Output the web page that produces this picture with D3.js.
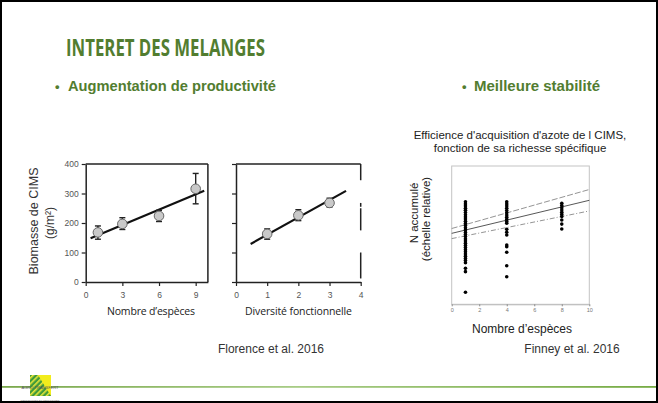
<!DOCTYPE html>
<html><head><meta charset="utf-8">
<script src="https://cdn.jsdelivr.net/npm/d3@7"></script>
<style>
html,body{margin:0;padding:0;background:#fff;}
svg{display:block;}
text{font-family:"Liberation Sans",Arial,sans-serif;}
</style></head>
<body>
<script>
// ---- Data ----
const speciesN = [1, 3, 6, 9];
const biomassMean = [168, 197, 224, 316];
const biomassLow = [145, 178, 205, 265];
const biomassHigh = [190, 218, 243, 368];
const fit1X = [0.4, 9.7];
const fit1Y = [148, 309];
const yTicksBiomass = [0, 100, 200, 300, 400];
const xTicksSpecies = [0, 3, 6, 9];

const diversity = [1, 2, 3];
const divMean = [163, 226, 268];
const divLow = [145, 208, 254];
const divHigh = [180, 245, 284];
const fit2X = [0.47, 3.53];
const fit2Y = [129, 309];
const xTicksDiversity = [0, 1, 2, 3, 4];

const finneyX = [1, 4, 8];
const finneyCol1 = [0.742,0.725,0.71,0.695,0.68,0.664,0.648,0.632,0.617,0.60,0.585,0.57,0.553,0.537,0.52,0.505,0.49,0.473,0.458,0.442,0.426,0.41,0.395,0.38,0.364,0.348,0.332,0.316,0.30,0.26,0.236,0.087];
const finneyCol4 = [0.742,0.726,0.71,0.694,0.678,0.662,0.646,0.63,0.614,0.598,0.586,0.542,0.521,0.501,0.429,0.416,0.376,0.279,0.199];
const finneyCol8 = [0.73,0.714,0.698,0.682,0.666,0.65,0.635,0.61,0.58,0.545];
const finneyFitX = [0, 10];
const finneyFit = [0.513, 0.752];
const finneyUpper = [0.548, 0.83];
const finneyLower = [0.475, 0.675];
const xTicksFinney = [0, 2, 4, 6, 8, 10];

// ---- Drawing ----
const W = 658, H = 403;
const svg = d3.select("body").append("svg").attr("width", W).attr("height", H);
svg.append("rect").attr("x",0).attr("y",0).attr("width",W).attr("height",H).attr("fill","#fff");
svg.append("rect").attr("x",1).attr("y",1).attr("width",W-2).attr("height",H-2)
  .attr("fill","none").attr("stroke","#000").attr("stroke-width",2);

const green = "#527d30";
svg.append("text").attr("x",66).attr("y",56).text("INTERET DES MELANGES")
  .style("font-family","'Open Sans',sans-serif").style("font-weight","bold")
  .style("font-size","24px").attr("fill",green)
  .attr("textLength",199).attr("lengthAdjust","spacingAndGlyphs");

function bullet(x, tx, txt, len){
  svg.append("text").attr("x",x).attr("y",91).text("•").attr("fill",green)
    .style("font-size","13px").style("font-weight","bold");
  svg.append("text").attr("x",tx).attr("y",91).text(txt).attr("fill",green)
    .style("font-size","15px").style("font-weight","bold")
    .attr("textLength",len).attr("lengthAdjust","spacingAndGlyphs");
}
bullet(55, 68, "Augmentation de productivité", 208);
bullet(462, 474, "Meilleure stabilité", 126);

const dark = "#222";
const yB = d3.scaleLinear().domain([0,400]).range([282,164]);

// Chart 1
const x1 = d3.scaleLinear().domain([0,10]).range([85.7,207.9]);
function styleAxis(g, labels){
  g.select(".domain").attr("stroke",dark).attr("stroke-width",1.5);
  g.selectAll(".tick line").attr("stroke",dark).attr("stroke-width",1.2);
  g.selectAll(".tick text").attr("fill","#555").style("font-size","8.5px")
   .style("font-family","'Liberation Sans',Arial,sans-serif");
  if(!labels) g.selectAll(".tick text").remove();
}
function panel(x, xTicks, yLabels){
  const gl = svg.append("g").attr("transform",`translate(${x.range()[0]},0)`)
    .call(d3.axisLeft(yB).tickValues(yTicksBiomass).tickFormat(d3.format("d")).tickSize(4).tickSizeOuter(0).tickPadding(3));
  styleAxis(gl, yLabels);
  const gb = svg.append("g").attr("transform",`translate(0,${yB(0)})`)
    .call(d3.axisBottom(x).tickValues(xTicks).tickFormat(d3.format("d")).tickSize(4).tickSizeOuter(0).tickPadding(4));
  styleAxis(gb, true);
  gb.selectAll(".tick text").attr("dy","0.9em");
}
panel(x1, xTicksSpecies, true);
svg.append("line").attr("x1",x1(0)).attr("x2",x1(10)).attr("y1",yB(400)).attr("y2",yB(400)).attr("stroke",dark).attr("stroke-width",1.5);
svg.append("line").attr("x1",x1(10)).attr("x2",x1(10)).attr("y1",yB(400)).attr("y2",yB(0)).attr("stroke",dark).attr("stroke-width",1.5);

function points(x, xs, m, lo, hi, fx, fy){
  svg.append("line").attr("x1",x(fx[0])).attr("y1",yB(fy[0])).attr("x2",x(fx[1])).attr("y2",yB(fy[1]))
    .attr("stroke","#111").attr("stroke-width",2.2);
  const g = svg.append("g");
  xs.forEach((v,i)=>{
    g.append("line").attr("x1",x(v)).attr("x2",x(v)).attr("y1",yB(lo[i])).attr("y2",yB(hi[i])).attr("stroke",dark).attr("stroke-width",1.4);
    [lo[i],hi[i]].forEach(e=>g.append("line").attr("x1",x(v)-3).attr("x2",x(v)+3).attr("y1",yB(e)).attr("y2",yB(e)).attr("stroke",dark).attr("stroke-width",1.4));
    g.append("circle").attr("cx",x(v)).attr("cy",yB(m[i])).attr("r",4.8).attr("fill","#c9c9c9").attr("stroke","#666").attr("stroke-width",1);
  });
}
points(x1, speciesN, biomassMean, biomassLow, biomassHigh, fit1X, fit1Y);

// Chart 2
const x2 = d3.scaleLinear().domain([0,4]).range([236,360.7]);
panel(x2, xTicksDiversity, false);
svg.append("line").attr("x1",x2(0)).attr("x2",x2(4)).attr("y1",yB(400)).attr("y2",yB(400)).attr("stroke",dark).attr("stroke-width",1.5);
[[400,345],[268,255],[250,175],[100,12]].forEach(s=>
  svg.append("line").attr("x1",x2(4)).attr("x2",x2(4)).attr("y1",yB(s[0])).attr("y2",yB(s[1])).attr("stroke",dark).attr("stroke-width",1.5));
points(x2, diversity, divMean, divLow, divHigh, fit2X, fit2Y);

// labels chart 1/2
const myr = "'Open Sans','Liberation Sans',sans-serif";
svg.append("text").attr("x",151).attr("y",315).attr("text-anchor","middle").text("Nombre d’espèces")
  .style("font-family",myr).style("font-size","10.5px").attr("fill","#222").attr("textLength",88);
svg.append("text").attr("x",298.5).attr("y",315).attr("text-anchor","middle").text("Diversité fonctionnelle")
  .style("font-family",myr).style("font-size","10.5px").attr("fill","#222").attr("textLength",107);
svg.append("text").attr("transform","translate(37.5,221) rotate(-90)").attr("text-anchor","middle")
  .text("Biomasse de CIMS").style("font-size","12.5px").attr("fill","#333");
svg.append("text").attr("transform","translate(54,223) rotate(-90)").attr("text-anchor","middle")
  .text("(g/m²)").style("font-size","12px").attr("fill","#333");
svg.append("text").attr("x",271).attr("y",353).attr("text-anchor","middle").text("Florence et al. 2016")
  .style("font-size","12px").attr("fill","#333");

// Chart 3
const x3 = d3.scaleLinear().domain([0,10]).range([451.7,589.3]);
const y3 = d3.scaleLinear().domain([0,1]).range([304.3,166]);
svg.append("text").attr("x",520).attr("y",139).attr("text-anchor","middle")
  .text("Efficience d'acquisition d'azote de l CIMS,").style("font-size","11.5px").attr("fill","#222");
svg.append("text").attr("x",520).attr("y",152).attr("text-anchor","middle")
  .text("fonction de sa richesse spécifique").style("font-size","11.5px").attr("fill","#222");
svg.append("rect").attr("x",x3(0)).attr("y",y3(1)).attr("width",x3(10)-x3(0)).attr("height",y3(0)-y3(1))
  .attr("fill","none").attr("stroke","#c4c4c4").attr("stroke-width",1);
const gx3 = svg.append("g").attr("transform",`translate(0,${y3(0)})`)
  .call(d3.axisBottom(x3).tickValues(xTicksFinney).tickFormat(d3.format("d")).tickSize(2).tickSizeOuter(0).tickPadding(2));
gx3.select(".domain").attr("stroke","#bbb");
gx3.selectAll(".tick line").attr("stroke","#888");
gx3.selectAll(".tick text").attr("fill","#777").style("font-size","5.5px");

const band = (arr, dash, col) => svg.append("line")
  .attr("x1",x3(finneyFitX[0])).attr("y1",y3(arr[0])).attr("x2",x3(finneyFitX[1])).attr("y2",y3(arr[1]))
  .attr("stroke",col).attr("stroke-width",0.9).attr("stroke-dasharray",dash);
band(finneyUpper, "6,2", "#888");
band(finneyLower, "5,2,1,2", "#888");
band(finneyFit, null, "#444");

const cols = [finneyCol1, finneyCol4, finneyCol8];
cols.forEach((vals, i) => {
  svg.append("g").selectAll("circle").data(vals).join("circle")
    .attr("cx", x3(finneyX[i])).attr("cy", d => y3(d)).attr("r", 1.8).attr("fill", "#000");
});
svg.append("text").attr("x",522).attr("y",333).attr("text-anchor","middle").text("Nombre d’espèces")
  .style("font-size","12px").attr("fill","#222");
svg.append("text").attr("transform","translate(418,213) rotate(-90)").attr("text-anchor","middle")
  .text("N accumulé").style("font-size","11.5px").attr("fill","#222");
svg.append("text").attr("transform","translate(430,219) rotate(-90)").attr("text-anchor","middle")
  .text("(échelle relative)").style("font-size","11.5px").attr("fill","#222");
svg.append("text").attr("x",572).attr("y",353).attr("text-anchor","middle").text("Finney et al. 2016")
  .style("font-size","12px").attr("fill","#333");

// footer line + logo
const defs = svg.append("defs");
const lg = defs.append("linearGradient").attr("id","gl");
lg.append("stop").attr("offset","0%").attr("stop-color","#7aa84c");
lg.append("stop").attr("offset","45%").attr("stop-color","#a8cc86");
lg.append("stop").attr("offset","100%").attr("stop-color","#76ab44");
svg.append("rect").attr("x",2).attr("y",386).attr("width",W-4).attr("height",1.8).attr("fill","url(#gl)");
const pat = defs.append("pattern").attr("id","stripes").attr("patternUnits","userSpaceOnUse")
  .attr("width",4).attr("height",4).attr("patternTransform","rotate(45)");
pat.append("rect").attr("width",4).attr("height",4).attr("fill","#3f9a3a");
pat.append("rect").attr("width",1.6).attr("height",4).attr("fill","#e8e63a");
svg.append("rect").attr("x",30).attr("y",375).attr("width",21).attr("height",21).attr("fill","#f2ec1c");
svg.append("path").attr("d","M30,375 L38,375 L51,396 L30,396 Z").attr("fill","url(#stripes)");
svg.append("text").attr("x",40).attr("y",388.5).attr("text-anchor","middle").text("AGRO-TRANSFERT")
  .style("font-size","4px").attr("fill","#555");
svg.append("text").attr("x",40).attr("y",401).attr("text-anchor","middle").text("RESSOURCES ET TERRITOIRES")
  .style("font-size","2.5px").attr("fill","#777");
</script>
</body></html>
